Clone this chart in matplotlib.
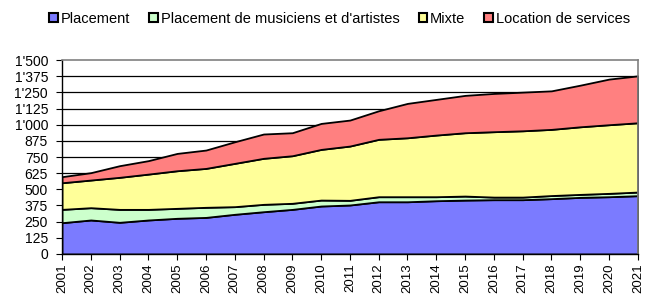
import matplotlib.pyplot as plt
from matplotlib.patches import Patch
from matplotlib.ticker import FuncFormatter

plt.rcParams['font.family'] = ['Liberation Sans', 'DejaVu Sans']

years = list(range(2001, 2022))
placement = [242, 263, 245, 263, 276, 283, 307, 327, 345, 371, 379,
             404, 404, 412, 417, 420, 420, 428, 438, 443, 451]
musiciens = [103, 95, 100, 82, 77, 78, 59, 57, 47, 46, 36,
             39, 39, 31, 31, 20, 20, 24, 23, 26, 28]
mixte = [206, 214, 248, 273, 291, 301, 335, 356, 368, 392, 420,
         444, 456, 477, 490, 506, 513, 512, 523, 531, 536]
location = [47, 57, 90, 104, 134, 142, 167, 188, 178, 201, 201,
            221, 266, 276, 289, 296, 299, 298, 322, 353, 363]

labels = ["Placement", "Placement de musiciens et d'artistes", "Mixte", "Location de services"]
colors = ["#7B7BFF", "#CCFFCC", "#FFFF99", "#FF8080"]

fig = plt.figure(figsize=(6.47, 2.96), dpi=100)
ax = fig.add_axes([0.0958, 0.142, 0.890, 0.655])

# gridlines behind the areas
for v in range(125, 1500, 125):
    ax.axhline(v, color='black', lw=0.9, zorder=0)

ax.stackplot(years, placement, musiciens, mixte, location,
             colors=colors, edgecolor='black', linewidth=1.3, zorder=2)

ax.set_xlim(2001, 2021)
ax.set_ylim(0, 1500)
ax.set_yticks(range(0, 1501, 125))
ax.yaxis.set_major_formatter(FuncFormatter(lambda v, p: f"{int(v):,}".replace(",", "'")))
ax.set_xticks(years)
ax.set_xticklabels([str(y) for y in years], rotation=90)
ax.tick_params(axis='y', labelsize=10, length=4, color='black', pad=6)
ax.tick_params(axis='x', labelsize=9.5, length=4, color='black', pad=3)

ax.spines['top'].set_color('#808080')
ax.spines['right'].set_color('#808080')
ax.spines['top'].set_linewidth(1.2)
ax.spines['right'].set_linewidth(1.2)
ax.spines['left'].set_linewidth(1.0)
ax.spines['bottom'].set_linewidth(1.0)

handles = [Patch(facecolor=c, edgecolor='black', linewidth=1.5) for c in colors]
fig.legend(handles, labels, loc='center', bbox_to_anchor=(0.525, 0.937), ncol=4,
           frameon=False, fontsize=10.5, handlelength=0.6, handleheight=0.6,
           handletextpad=0.2, columnspacing=1.3)

fig.savefig("out.png", dpi=100)
